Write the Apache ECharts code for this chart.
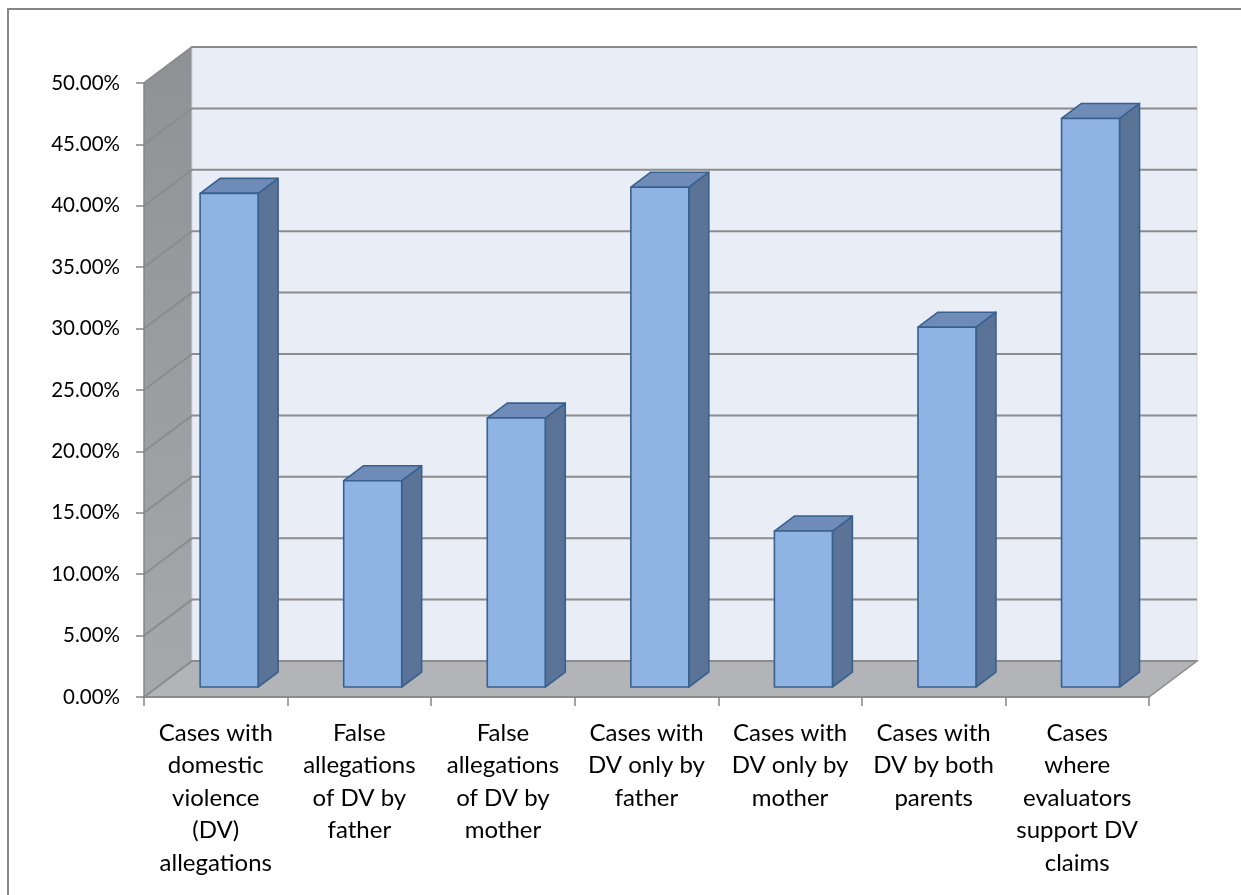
<!DOCTYPE html>
<html>
<head>
<meta charset="utf-8">
<script src="https://cdn.jsdelivr.net/npm/echarts@6/dist/echarts.min.js"></script>
<style>
  html, body { margin: 0; padding: 0; background: #ffffff; }
  #chart { width: 1241px; height: 895px; }
</style>
</head>
<body>
<div id="chart"></div>
<script>
// Category labels (line breaks as they wrap under the axis)
const categories = [
  'Cases with\ndomestic\nviolence\n(DV)\nallegations',
  'False\nallegations\nof DV by\nfather',
  'False\nallegations\nof DV by\nmother',
  'Cases with\nDV only by\nfather',
  'Cases with\nDV only by\nmother',
  'Cases with\nDV by both\nparents',
  'Cases\nwhere\nevaluators\nsupport DV\nclaims'
];

// Share of cases for each category
const shares = [0.402, 0.168, 0.219, 0.407, 0.127, 0.293, 0.463];

// Value axis ticks (also the gridlines on the back wall)
const yTicks = [0, 0.05, 0.10, 0.15, 0.20, 0.25, 0.30, 0.35, 0.40, 0.45, 0.50];

// Oblique projection of the 3-D box: offset from the front plane to the back wall
const DEPTH_X = 48;
const DEPTH_Y = -36;
const BAR_FRONT = 0.278;   // depth fraction of the bar front face
const BAR_BACK = 0.694;    // depth fraction of the bar back face
const BAR_WIDTH = 0.404;   // bar width as a fraction of the category band

const GRID_COLOR = '#8c8c8c';
const AXIS_COLOR = '#868686';
const FONT = 'Lato';

function plotFrame(api) {
  const n = categories.length;
  const band = api.size([1, 0])[0];
  const xl = api.coord([0, 0])[0] - band / 2;
  const xr = api.coord([n - 1, 0])[0] + band / 2;
  const y0 = api.coord([0, 0])[1];
  const yTop = api.coord([0, yTicks[yTicks.length - 1]])[1];
  return { xl, xr, y0, yTop, band };
}

// Side wall, back wall, floor and gridlines
function renderWalls(params, api) {
  const f = plotFrame(api);
  const dx = DEPTH_X, dy = DEPTH_Y;
  const children = [];

  children.push({
    type: 'polygon',
    shape: { points: [[f.xl, f.y0], [f.xl, f.yTop], [f.xl + dx, f.yTop + dy], [f.xl + dx, f.y0 + dy]] },
    style: {
      fill: new echarts.graphic.LinearGradient(0, 0, 0, 1, [
        { offset: 0, color: '#8f9195' },
        { offset: 1, color: '#a6a8ab' }
      ]),
      stroke: null
    }
  });

  children.push({
    type: 'polygon',
    shape: { points: [[f.xl + dx, f.yTop + dy], [f.xr + dx, f.yTop + dy], [f.xr + dx, f.y0 + dy], [f.xl + dx, f.y0 + dy]] },
    style: { fill: '#e9edf6', stroke: '#d3d7df', lineWidth: 1 }
  });

  children.push({
    type: 'polygon',
    shape: { points: [[f.xl, f.y0], [f.xr, f.y0], [f.xr + dx, f.y0 + dy], [f.xl + dx, f.y0 + dy]] },
    style: { fill: '#b3b4b7', stroke: GRID_COLOR, lineWidth: 1.5 }
  });

  yTicks.forEach(function (v) {
    const y = api.coord([0, v])[1];
    children.push({
      type: 'polyline',
      shape: { points: [[f.xl, y], [f.xl + dx, y + dy], [f.xr + dx, y + dy]] },
      style: { stroke: GRID_COLOR, lineWidth: 2, fill: null }
    });
  });

  return { type: 'group', children: children };
}

// One 3-D column: front face, top and right side
function renderBar(params, api) {
  const i = api.value(0);
  const v = api.value(1);
  const band = api.size([1, 0])[0];
  const top = api.coord([i, v]);
  const base = api.coord([i, 0]);
  const w = band * BAR_WIDTH;
  const ox = DEPTH_X * BAR_FRONT, oy = DEPTH_Y * BAR_FRONT;
  const sx = DEPTH_X * (BAR_BACK - BAR_FRONT), sy = DEPTH_Y * (BAR_BACK - BAR_FRONT);
  const xL = top[0] - w / 2 + ox;
  const xR = top[0] + w / 2 + ox;
  const yT = top[1] + oy;
  const yB = base[1] + oy;
  const edge = { stroke: '#38618f', lineWidth: 1.6, lineJoin: 'round' };

  return {
    type: 'group',
    children: [
      {
        type: 'polygon',
        shape: { points: [[xR, yT], [xR + sx, yT + sy], [xR + sx, yB + sy], [xR, yB]] },
        style: Object.assign({ fill: '#5b7397' }, edge)
      },
      {
        type: 'polygon',
        shape: { points: [[xL, yT], [xR, yT], [xR + sx, yT + sy], [xL + sx, yT + sy]] },
        style: Object.assign({ fill: '#6f8cb9' }, edge)
      },
      {
        type: 'rect',
        shape: { x: xL, y: yT, width: xR - xL, height: yB - yT },
        style: Object.assign({ fill: '#8fb4e3' }, edge)
      }
    ]
  };
}

const chart = echarts.init(document.getElementById('chart'), null, { renderer: 'canvas' });

chart.setOption({
  backgroundColor: '#ffffff',
  animation: false,
  graphic: [{
    type: 'rect',
    shape: { x: 8, y: 9, width: 1300, height: 1000 },
    style: { fill: null, stroke: AXIS_COLOR, lineWidth: 2 },
    z: 0
  }],
  grid: { left: 144, right: 92, top: 83, bottom: 198 },
  xAxis: {
    type: 'category',
    data: categories,
    boundaryGap: true,
    z: 5,
    axisLine: { show: true, lineStyle: { color: AXIS_COLOR, width: 1.5 } },
    axisTick: { show: true, length: 9, lineStyle: { color: AXIS_COLOR, width: 1.5 } },
    axisLabel: {
      interval: 0,
      margin: 20,
      color: '#000000',
      fontFamily: FONT,
      fontSize: 24,
      lineHeight: 32.5,
      align: 'center'
    },
    splitLine: { show: false }
  },
  yAxis: {
    type: 'value',
    min: 0,
    max: 0.5,
    interval: 0.05,
    z: 5,
    axisLine: { show: true, lineStyle: { color: AXIS_COLOR, width: 1.5 } },
    axisTick: { show: true, length: 8, lineStyle: { color: AXIS_COLOR, width: 1.5 } },
    axisLabel: {
      margin: 24,
      color: '#000000',
      fontFamily: FONT,
      fontSize: 20.5,
      formatter: function (v) { return (v * 100).toFixed(2) + '%'; }
    },
    splitLine: { show: false }
  },
  series: [
    {
      type: 'custom',
      name: 'walls',
      renderItem: renderWalls,
      data: [[0, 0]],
      silent: true,
      z: 1
    },
    {
      type: 'custom',
      name: 'Share of cases',
      renderItem: renderBar,
      data: shares.map(function (v, i) { return [i, v]; }),
      z: 2
    }
  ]
});
</script>
</body>
</html>
